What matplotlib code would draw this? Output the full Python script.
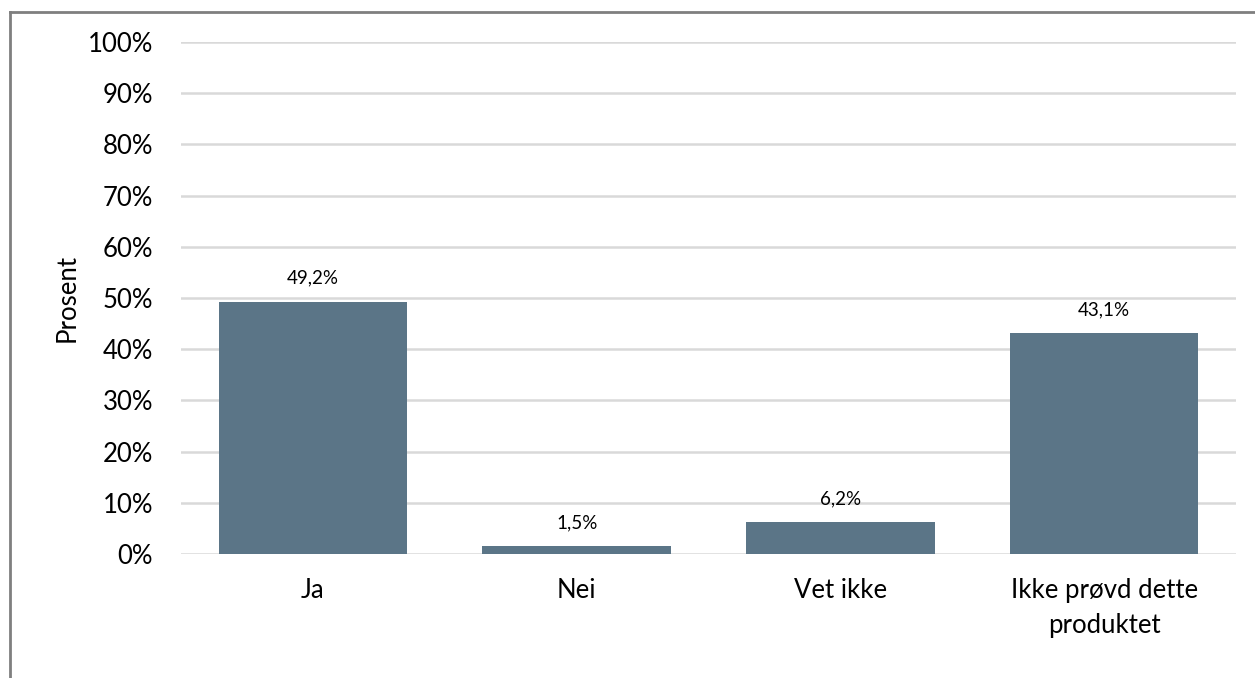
import matplotlib
matplotlib.use("Agg")
import matplotlib.pyplot as plt
from matplotlib.lines import Line2D
from matplotlib.ticker import MultipleLocator, FuncFormatter

categories = ["Ja", "Nei", "Vet ikke", "Ikke prøvd dette\nproduktet"]
values = [49.2, 1.5, 6.2, 43.1]
value_labels = ["49,2%", "1,5%", "6,2%", "43,1%"]
y_label = "Prosent"

plt.rcParams["font.family"] = ["Lato", "DejaVu Sans"]

W, H = 1255, 678
fig = plt.figure(figsize=(W / 100, H / 100), dpi=100)
ax = fig.add_axes([181 / W, 1 - 554 / H, (1236 - 181) / W, (554 - 42) / H])

bar_color = "#5B7587"
x = range(len(categories))
ax.bar(x, values, width=0.715, color=bar_color, zorder=3)

for xi, v, lab in zip(x, values, value_labels):
    ax.text(xi, v + 3.0, lab, ha="center", va="bottom", fontsize=13.5, color="#000000")

ax.set_xlim(-0.5, len(categories) - 0.5)
ax.set_ylim(0, 100)
ax.yaxis.set_major_locator(MultipleLocator(10))
ax.yaxis.set_major_formatter(FuncFormatter(lambda v, p: f"{v:.0f}%"))
ax.grid(axis="y", color="#D9D9D9", linewidth=1.8, zorder=0)
ax.set_axisbelow(True)

for s in ax.spines.values():
    s.set_visible(False)

ax.set_xticks(list(x))
ax.set_xticklabels(categories, fontsize=18.5, linespacing=1.5)
ax.tick_params(axis="both", length=0, labelsize=18.5, colors="#000000")
ax.tick_params(axis="x", pad=17)
ax.tick_params(axis="y", pad=20)
ax.set_ylabel(y_label, fontsize=18.5, labelpad=6)

# frame around the chart area
fig.add_artist(Line2D([10 / W, 10 / W], [0, 1 - 12 / H], color="#7F7F7F", linewidth=2, transform=fig.transFigure))
fig.add_artist(Line2D([10 / W, 1], [1 - 12 / H, 1 - 12 / H], color="#7F7F7F", linewidth=2, transform=fig.transFigure))

fig.savefig("out.png", dpi=100, facecolor="white")
